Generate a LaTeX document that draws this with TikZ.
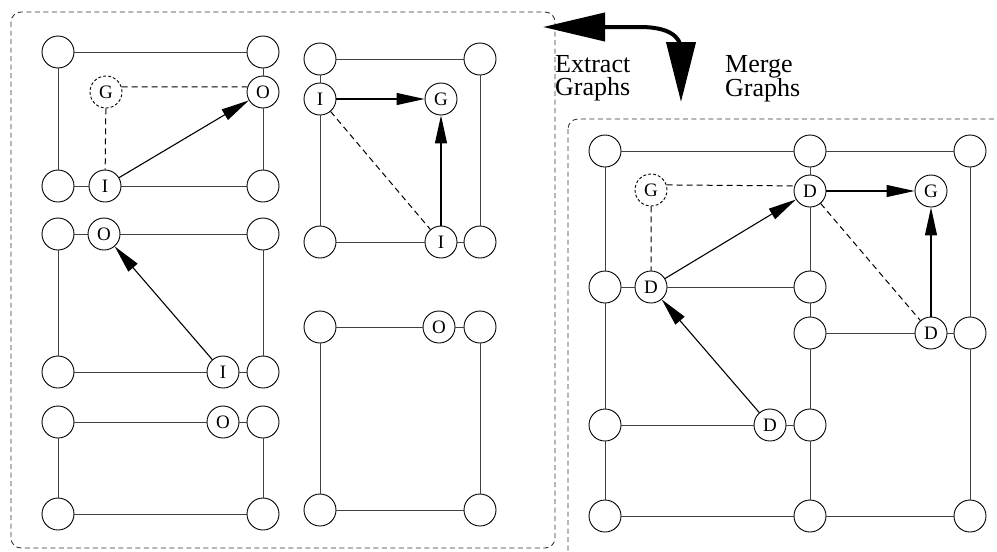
\documentclass[tikz,border=0pt]{standalone}
\usepackage{fontspec}
\setmainfont{Liberation Serif}
\usetikzlibrary{arrows.meta}
\begin{document}
\begin{tikzpicture}[x=1pt,y=-1pt,
  vtx/.style={circle,draw=black,line width=0.9pt,minimum size=32pt,inner sep=0pt,font=\fontsize{19}{19}\selectfont},
  gvtx/.style={vtx,dashed,dash pattern=on 3pt off 2pt},
  edge/.style={draw=black!75,line width=0.9pt},
  dedge/.style={draw=black,line width=1pt,dash pattern=on 6pt off 4pt},
  aedge/.style={draw=black,line width=1.1pt,-{Triangle[length=28pt,width=12pt]}},
  panel/.style={draw=black!80,line width=0.9pt,dash pattern=on 5pt off 3.5pt,rounded corners=10pt},
  bigarrow/.style={line width=4pt,{Triangle[length=62pt,width=28pt]}-{Triangle[length=60pt,width=29pt]}},
  lbl/.style={font=\fontsize{26}{23.5}\selectfont,align=left,anchor=north west,inner sep=0pt}
]
\useasboundingbox (0,0) rectangle (997,552);
% panels
\draw[panel] (11,12) rectangle (555,548);
\draw[panel] (568,119) rectangle (1020,580);
% big arrow and labels
\coordinate (ea) at (543,27);
\coordinate (eb) at (681,102);
\draw[bigarrow] (ea) -- (640,27) .. controls (668,27) and (681,36) .. (681,50) -- (eb);
\node[lbl] (ext) at (555,55) {Extract\\Graphs};
\node[lbl] (mrg) at (725,55) {Merge\\Graphs};

% ---- subgraph A
\node[vtx] (a1) at (58,52) {};
\node[vtx] (a2) at (263,52) {};
\node[gvtx] (aG) at (106,92) {G};
\node[vtx] (aO) at (263,92) {O};
\node[vtx] (a3) at (58,186) {};
\node[vtx] (aI) at (105,186) {I};
\node[vtx] (a4) at (263,186) {};
\draw[edge] (a1) -- (a2) (a1) -- (a3) (a3) -- (aI) (aI) -- (a4) (a2) -- (aO) (aO) -- (a4);
\draw[dedge] (aG.18) -- (aO.162) (aG) -- (aI);
\draw[aedge] (aI) -- (aO);

% ---- subgraph B
\node[vtx] (b1) at (320,59) {};
\node[vtx] (b2) at (480,59) {};
\node[vtx] (bI) at (320,99) {I};
\node[vtx] (bG) at (441,99) {G};
\node[vtx] (b3) at (320,242) {};
\node[vtx] (bJ) at (441,242) {I};
\node[vtx] (b4) at (480,242) {};
\draw[edge] (b1) -- (b2) (b1) -- (bI) (bI) -- (b3) (b3) -- (bJ) (bJ) -- (b4) (b2) -- (b4);
\draw[dedge] (bI) -- (bJ);
\draw[aedge] (bI) -- (bG);
\draw[aedge] (bJ) -- (bG);

% ---- subgraph C
\node[vtx] (c1) at (58,234) {};
\node[vtx] (cO) at (104,234) {O};
\node[vtx] (c2) at (263,234) {};
\node[vtx] (c3) at (58,372) {};
\node[vtx] (cI) at (223,372) {I};
\node[vtx] (c4) at (263,372) {};
\draw[edge] (c1) -- (cO) (cO) -- (c2) (c1) -- (c3) (c2) -- (c4) (c3) -- (cI) (cI) -- (c4);
\draw[aedge] (cI) -- (cO);

% ---- subgraph D
\node[vtx] (d1) at (58,422) {};
\node[vtx] (dO) at (223,422) {O};
\node[vtx] (d2) at (263,422) {};
\node[vtx] (d3) at (58,514) {};
\node[vtx] (d4) at (263,514) {};
\draw[edge] (d1) -- (dO) (dO) -- (d2) (d1) -- (d3) (d2) -- (d4) (d3) -- (d4);

% ---- subgraph E
\node[vtx] (e1) at (320,327) {};
\node[vtx] (eO) at (439,327) {O};
\node[vtx] (e2) at (480,327) {};
\node[vtx] (e3) at (320,510) {};
\node[vtx] (e4) at (480,510) {};
\draw[edge] (e1) -- (eO) (eO) -- (e2) (e1) -- (e3) (e2) -- (e4) (e3) -- (e4);

% ---- merged graph
\node[vtx] (r1) at (605,151) {};
\node[vtx] (r2) at (810,151) {};
\node[vtx] (r3) at (970,151) {};
\node[gvtx] (rG) at (651,190) {G};
\node[vtx] (rD1) at (810,191) {D};
\node[vtx] (rG2) at (931,191) {G};
\node[vtx] (r4) at (605,287) {};
\node[vtx] (rD2) at (651,287) {D};
\node[vtx] (r5) at (810,287) {};
\node[vtx] (r6) at (810,333) {};
\node[vtx] (rD3) at (931,333) {D};
\node[vtx] (r7) at (970,333) {};
\node[vtx] (r8) at (605,425) {};
\node[vtx] (rD4) at (770,425) {D};
\node[vtx] (r9) at (810,425) {};
\node[vtx] (r10) at (605,516) {};
\node[vtx] (r11) at (810,516) {};
\node[vtx] (r12) at (970,516) {};
\draw[edge] (r1) -- (r2) (r2) -- (r3) (r1) -- (r4) (r2) -- (rD1) (rD1) -- (r5) (r3) -- (r7)
  (r4) -- (rD2) (rD2) -- (r5) (r5) -- (r6) (r6) -- (rD3) (rD3) -- (r7)
  (r4) -- (r8) (r8) -- (rD4) (rD4) -- (r9) (r6) -- (r9) (r9) -- (r11) (r8) -- (r10)
  (r7) -- (r12) (r10) -- (r11) (r11) -- (r12);
\draw[dedge] (rG.18) -- (rD1.162) (rG) -- (rD2) (rD1) -- (rD3);
\draw[aedge] (rD2) -- (rD1);
\draw[aedge] (rD1) -- (rG2);
\draw[aedge] (rD3) -- (rG2);
\draw[aedge] (rD4) -- (rD2);
\end{tikzpicture}
\end{document}
